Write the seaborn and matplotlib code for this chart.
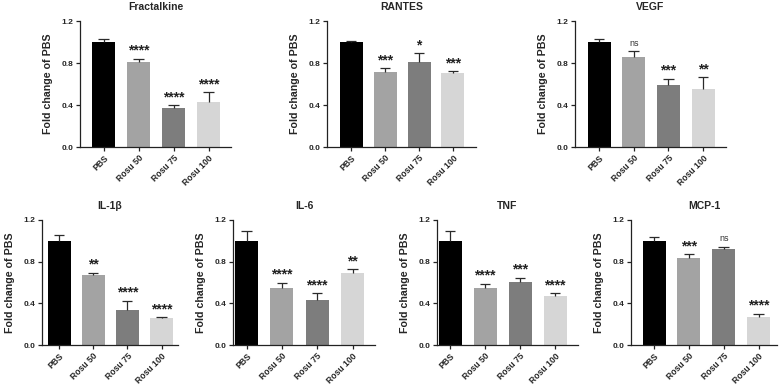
import numpy as np
import seaborn as sns
import matplotlib.pyplot as plt

groups = ["PBS", "Rosu 50", "Rosu 75", "Rosu 100"]
colors = ["#000000", "#a3a3a3", "#7d7d7d", "#d6d6d6"]

# mean fold change and upper SEM for each cytokine
fractalkine = [1.0, 0.813, 0.375, 0.430]
fractalkine_err = [0.026, 0.025, 0.022, 0.090]
fractalkine_sig = ["", "****", "****", "****"]

rantes = [1.0, 0.717, 0.810, 0.705]
rantes_err = [0.010, 0.032, 0.085, 0.015]
rantes_sig = ["", "***", "*", "***"]

vegf = [1.0, 0.857, 0.587, 0.549]
vegf_err = [0.026, 0.060, 0.064, 0.114]
vegf_sig = ["", "ns", "***", "**"]

il1b = [1.0, 0.670, 0.340, 0.257]
il1b_err = [0.054, 0.022, 0.085, 0.010]
il1b_sig = ["", "**", "****", "****"]

il6 = [1.0, 0.546, 0.432, 0.692]
il6_err = [0.090, 0.051, 0.066, 0.035]
il6_sig = ["", "****", "****", "**"]

tnf = [1.0, 0.543, 0.603, 0.467]
tnf_err = [0.090, 0.047, 0.045, 0.031]
tnf_sig = ["", "****", "***", "****"]

mcp1 = [1.0, 0.840, 0.920, 0.268]
mcp1_err = [0.040, 0.030, 0.025, 0.034]
mcp1_sig = ["", "***", "ns", "****"]

# (title, means, errors, labels, left px, right px, first bar px, last bar px, top px, bottom px)
panels = [
    ("Fractalkine", fractalkine, fractalkine_err, fractalkine_sig, 80, 231, 103.5, 208.5, 21, 147),
    ("RANTES", rantes, rantes_err, rantes_sig, 327, 476, 351, 453, 21, 147),
    ("VEGF", vegf, vegf_err, vegf_sig, 575, 726, 599, 703, 21, 147),
    ("IL-1β", il1b, il1b_err, il1b_sig, 42, 178, 59, 161.5, 220, 345),
    ("IL-6", il6, il6_err, il6_sig, 233, 375, 246.5, 352.5, 220, 345),
    ("TNF", tnf, tnf_err, tnf_sig, 437, 578, 450, 555, 220, 345),
    ("MCP-1", mcp1, mcp1_err, mcp1_sig, 631, 777, 654, 758.5, 220, 345),
]

sns.set_style("ticks")
plt.rcParams['font.family'] = ['Liberation Sans', 'DejaVu Sans']

W, H = 784, 386
fig = plt.figure(figsize=(W / 100, H / 100), dpi=100)

for title, means, err, sig, left, right, c0, c3, top, bottom in panels:
    ax = fig.add_axes([left / W, 1 - bottom / H, (right - left) / W, (bottom - top) / H])
    step = (c3 - c0) / 3
    sns.barplot(x=groups, y=means, hue=groups, palette=colors, legend=False,
                width=23 / step, linewidth=0, ax=ax)
    xs = np.arange(len(groups))
    tops = np.array(means) + np.array(err)
    ax.vlines(xs, means, tops, color="#2a2a2a", linewidth=0.9)
    ax.hlines(tops, xs - 0.15, xs + 0.15, color="#2a2a2a", linewidth=0.9)
    for i, s in enumerate(sig):
        if not s:
            continue
        if s == "ns":
            ax.text(i, tops[i] + 0.03, s, ha="center", va="bottom", fontsize=6.5, color="#333333")
        else:
            ax.text(i, tops[i] + 0.01, s, ha="center", va="bottom", fontsize=10,
                    fontweight="bold", color="#222222")
    ax.set_xlim(-(c0 - left) / step, 3 + (right - c3) / step)
    ax.set_ylim(0, 1.2)
    ax.set_yticks([0.0, 0.4, 0.8, 1.2])
    ax.set_yticklabels(["0.0", "0.4", "0.8", "1.2"])
    ax.set_title(title, fontsize=7.5, fontweight="bold", pad=8)
    ax.set_ylabel("Fold change of PBS", fontsize=7.7, fontweight="bold", labelpad=6)
    ax.set_xlabel("")
    ax.set_xticks(xs)
    ax.set_xticklabels(groups, rotation=45, ha="right", rotation_mode="anchor")
    ax.tick_params(axis="both", length=3, width=0.9, pad=2, color="#222222")
    ax.tick_params(axis="x", labelsize=6.2, pad=1.5)
    ax.tick_params(axis="y", labelsize=6)
    for lab in ax.get_xticklabels() + ax.get_yticklabels():
        lab.set_fontweight("bold")
    sns.despine(ax=ax)
    for sp in ["left", "bottom"]:
        ax.spines[sp].set_linewidth(0.9)
        ax.spines[sp].set_color("#222222")

fig.savefig("out.png", dpi=100)
